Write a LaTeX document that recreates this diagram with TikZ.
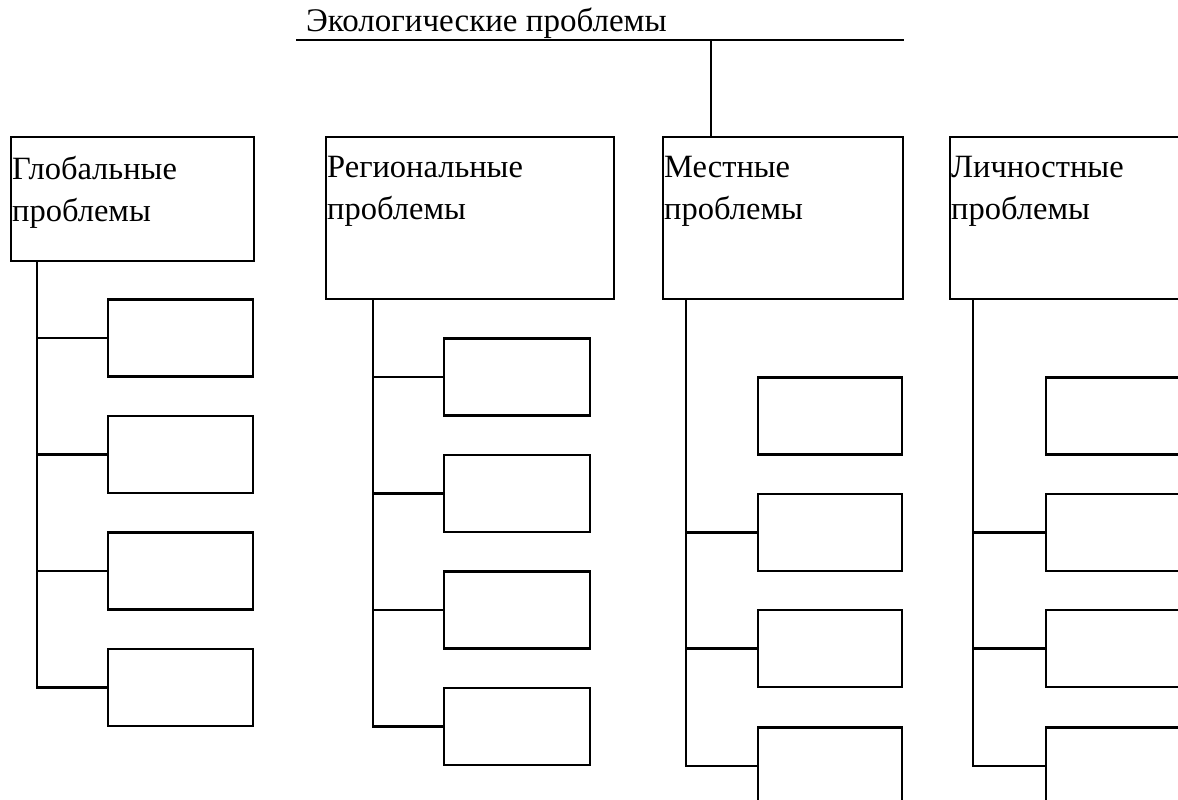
\documentclass[tikz,border=0pt]{standalone}
\usepackage{fontspec}
\setmainfont{Liberation Serif}
\begin{document}
\begin{tikzpicture}[x=1pt,y=-1pt,
  ln/.style={line width=2.4pt, line cap=rect},
  tbox/.style={draw, line width=2.4pt, rectangle, inner sep=0pt, anchor=north west},
  cbox/.style={draw, line width=2.4pt, rectangle, inner sep=0pt, minimum width=144pt, minimum height=77pt},
  lbl/.style={font=\fontsize{32.5}{42}\selectfont, align=left, inner sep=0pt, anchor=north west}]
\useasboundingbox (0,0) rectangle (1178,800);
\clip (0,0) rectangle (1178,800);
% title
\node[font=\fontsize{33}{42}\selectfont, inner sep=0pt, anchor=base west] (title) at (306,32) {Экологические проблемы};
\coordinate (ulA) at (297,40);
\coordinate (ulB) at (903,40);
\coordinate (join) at (711,40);
\draw[ln] (ulA) -- (ulB);
% top boxes
\node[tbox, minimum width=243pt, minimum height=124pt] (g) at (10,136) {};
\node[tbox, minimum width=288pt, minimum height=162pt] (r) at (325,136) {};
\node[tbox, minimum width=240pt, minimum height=162pt] (l) at (662,136) {};
\node[tbox, minimum width=260pt, minimum height=162pt] (p) at (949,136) {};
\draw[ln] (join) -- (join |- l.north);
\node[lbl] (gt) at ([xshift=2pt,yshift=-20pt]g.north west) {Глобальные\\проблемы};
\node[lbl] (rt) at ([xshift=2pt,yshift=-20pt]r.north west) {Региональные\\проблемы};
\node[lbl] (lt) at ([xshift=2pt,yshift=-20pt]l.north west) {Местные\\проблемы};
\node[lbl] (pt) at ([xshift=2pt,yshift=-20pt]p.north west) {Личностные\\проблемы};
% global children
\node[cbox, minimum width=145pt] (g1) at (180.5,338) {};
\node[cbox, minimum width=145pt] (g2) at (180.5,454.5) {};
\node[cbox, minimum width=145pt] (g3) at (180.5,571) {};
\node[cbox, minimum width=145pt] (g4) at (180.5,687.5) {};
\coordinate (gv) at (37,0);
\draw[ln] (gv |- g.south) -- (gv |- g4.west) -- (g4.west);
\foreach \i in {1,2,3} \draw[ln] (gv |- g\i.west) -- (g\i.west);
% regional children
\node[cbox, minimum width=146pt] (r1) at (517,377) {};
\node[cbox, minimum width=146pt] (r2) at (517,493.5) {};
\node[cbox, minimum width=146pt] (r3) at (517,610) {};
\node[cbox, minimum width=146pt] (r4) at (517,726.5) {};
\coordinate (rv) at (373,0);
\draw[ln] (rv |- r.south) -- (rv |- r4.west) -- (r4.west);
\foreach \i in {1,2,3} \draw[ln] (rv |- r\i.west) -- (r\i.west);
% local children
\node[cbox] (l1) at (830,416) {};
\node[cbox] (l2) at (830,532.5) {};
\node[cbox] (l3) at (830,648.5) {};
\node[cbox] (l4) at (830,766) {};
\coordinate (lv) at (686,0);
\draw[ln] (lv |- l.south) -- (lv |- l4.west) -- (l4.west);
\foreach \i in {2,3} \draw[ln] (lv |- l\i.west) -- (l\i.west);
% personal children
\node[cbox] (p1) at (1118,416) {};
\node[cbox] (p2) at (1118,532.5) {};
\node[cbox] (p3) at (1118,648.5) {};
\node[cbox] (p4) at (1118,766) {};
\coordinate (pv) at (973,0);
\draw[ln] (pv |- p.south) -- (pv |- p4.west) -- (p4.west);
\foreach \i in {2,3} \draw[ln] (pv |- p\i.west) -- (p\i.west);
\end{tikzpicture}
\end{document}
